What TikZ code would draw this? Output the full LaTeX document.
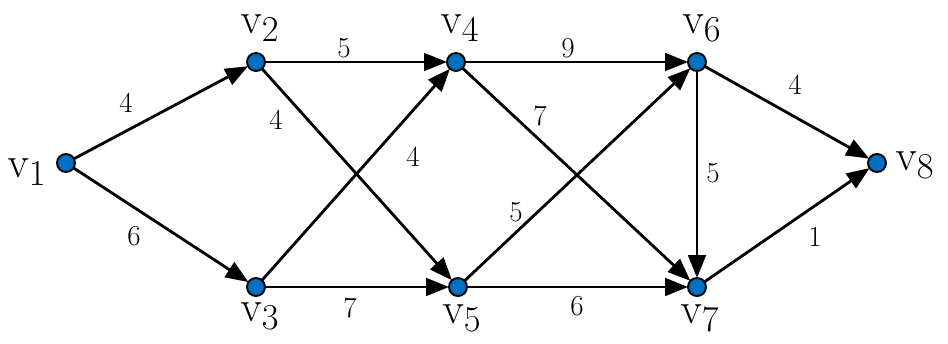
\documentclass[tikz,border=0pt]{standalone}
\usepackage{xcolor}
\usetikzlibrary{arrows.meta}
\definecolor{vblue}{HTML}{0070C0}
\tikzset{
  grvertex/.style={circle, fill=vblue, draw=black, line width=1.1pt, minimum size=0.36cm, inner sep=0pt, outer sep=0pt},
  gredge/.style={line width=1.6pt, draw=black, -{Triangle[length=13pt,width=10pt]}},
  grweight/.style={font=\fontsize{16.5}{19}\selectfont, inner sep=0pt},
  grname/.style={font=\fontsize{28}{32}\selectfont, inner sep=0pt},
}

\begin{document}
\begin{tikzpicture}
\useasboundingbox (0,0) rectangle (18.96,-6.88);
% vertices
\node[grvertex] (v1) at (1.32,-3.26) {};
\node[grvertex] (v2) at (5.12,-1.24) {};
\node[grvertex] (v3) at (5.12,-5.74) {};
\node[grvertex] (v4) at (9.12,-1.24) {};
\node[grvertex] (v5) at (9.16,-5.74) {};
\node[grvertex] (v6) at (13.94,-1.24) {};
\node[grvertex] (v7) at (13.94,-5.74) {};
\node[grvertex] (v8) at (17.54,-3.26) {};
% vertex names
\node[grname] (n1) at (0.54,-3.44) {$\mathrm{v}_1$};
\node[grname] (n2) at (5.20,-0.56) {$\mathrm{v}_2$};
\node[grname] (n3) at (5.20,-6.32) {$\mathrm{v}_3$};
\node[grname] (n4) at (9.20,-0.56) {$\mathrm{v}_4$};
\node[grname] (n5) at (9.24,-6.36) {$\mathrm{v}_5$};
\node[grname] (n6) at (14.04,-0.56) {$\mathrm{v}_6$};
\node[grname] (n7) at (14.00,-6.36) {$\mathrm{v}_7$};
\node[grname] (n8) at (18.30,-3.30) {$\mathrm{v}_8$};
% arcs
\draw[gredge] (v1) -- (v2);
\draw[gredge] (v1) -- (v3);
\draw[gredge] (v2) -- (v4);
\draw[gredge] (v2) -- (v5);
\draw[gredge] (v3) -- (v4);
\draw[gredge] (v3) -- (v5);
\draw[gredge] (v4) -- (v6);
\draw[gredge] (v4) -- (v7);
\draw[gredge] (v5) -- (v6);
\draw[gredge] (v5) -- (v7);
\draw[gredge] (v6) -- (v7);
\draw[gredge] (v6) -- (v8);
\draw[gredge] (v7) -- (v8);
% weights
\node[grweight] (w12) at (2.52,-2.06) {4};
\node[grweight] (w13) at (2.68,-4.72) {6};
\node[grweight] (w24) at (6.88,-0.96) {5};
\node[grweight] (w25) at (5.52,-2.40) {4};
\node[grweight] (w34) at (8.26,-3.14) {4};
\node[grweight] (w35) at (7.00,-6.16) {7};
\node[grweight] (w46) at (11.36,-0.96) {9};
\node[grweight] (w47) at (10.80,-2.32) {7};
\node[grweight] (w56) at (10.32,-4.24) {5};
\node[grweight] (w57) at (11.54,-6.12) {6};
\node[grweight] (w67) at (14.26,-3.46) {5};
\node[grweight] (w68) at (15.90,-1.70) {4};
\node[grweight] (w78) at (16.30,-4.74) {1};
\end{tikzpicture}
\end{document}
